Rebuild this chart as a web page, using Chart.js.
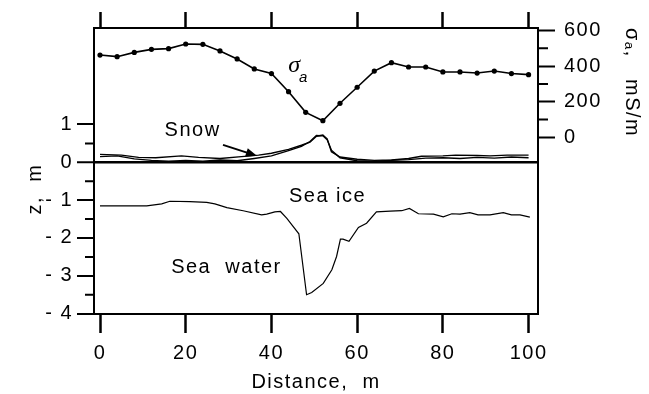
<!DOCTYPE html>
<html>
<head>
<meta charset="utf-8">
<script src="https://cdn.jsdelivr.net/npm/chart.js@4.4.1/dist/chart.umd.min.js"></script>
<style>
  html, body { margin: 0; padding: 0; background: #fff; }
  #wrap { width: 649px; height: 394px; }
</style>
</head>
<body>
<div id="wrap"><canvas id="c" width="649" height="394"></canvas></div>
<script>
// Apparent conductivity along the profile (mS/m), every 4 m
const sigmaDist = [0, 4, 8, 12, 16, 20, 24, 28, 32, 36, 40, 44, 48, 52, 56, 60, 64, 68, 72, 76, 80, 84, 88, 92, 96, 100];
const sigmaValues = [462, 453, 477, 494, 498, 524, 522, 485, 440, 384, 358, 256, 140, 93, 191, 281, 372, 419, 395, 395, 367, 367, 361, 372, 358, 352];

// Snow surface, two soundings (m above ice surface)
const snowDistA = [0, 5, 9, 13, 19, 23, 28, 33, 37, 40, 44, 47, 49, 50.5, 52, 53, 54, 56, 60, 64, 68, 72, 75, 80, 83, 88, 91, 95, 100];
const snowA = [0.21, 0.19, 0.13, 0.12, 0.17, 0.13, 0.10, 0.15, 0.19, 0.24, 0.34, 0.45, 0.53, 0.69, 0.72, 0.62, 0.28, 0.14, 0.08, 0.05, 0.06, 0.10, 0.16, 0.17, 0.19, 0.18, 0.17, 0.19, 0.19];
const snowDistB = [0, 4, 8, 12, 16, 20, 24, 28, 32, 36, 40, 44, 47, 49, 50.5, 52, 53, 54, 56, 60, 64, 68, 72, 76, 80, 84, 88, 92, 96, 100];
const snowB = [0.15, 0.17, 0.09, 0.05, 0.03, 0.05, 0.03, 0.06, 0.04, 0.10, 0.17, 0.31, 0.42, 0.55, 0.71, 0.70, 0.60, 0.32, 0.12, 0.04, 0.03, 0.05, 0.07, 0.11, 0.12, 0.10, 0.13, 0.11, 0.14, 0.12];

// Ice bottom (m)
const iceDist = [0, 10.9, 14.4, 16.3, 21.0, 24.9, 26.8, 29.6, 33.4, 37.7, 38.9, 40.8, 42.1, 43.6, 46.4, 48.2, 49.4, 52.1, 54.1, 55.2, 56.1, 56.7, 58.1, 60.3, 62.2, 64.5, 67.7, 70.4, 72.2, 74.3, 77.8, 80.1, 82.1, 84.0, 86.3, 88.2, 91.0, 94.1, 96.0, 98.0, 100.3];
const iceBottom = [-1.15, -1.15, -1.10, -1.03, -1.04, -1.06, -1.10, -1.20, -1.28, -1.39, -1.37, -1.31, -1.30, -1.48, -1.89, -3.50, -3.44, -3.20, -2.84, -2.49, -2.03, -2.03, -2.09, -1.72, -1.61, -1.31, -1.29, -1.28, -1.22, -1.36, -1.37, -1.44, -1.36, -1.37, -1.33, -1.39, -1.39, -1.33, -1.39, -1.39, -1.45];

// Axis ticks
const distTicks = [0, 20, 40, 60, 80, 100];
const zTicks = [-4, -3, -2, -1, 0, 1];
const zMinorTicks = [-3.5, -2.5, -1.5, -0.5, 0.5];
const sigmaTicks = [0, 200, 400, 600];
const sigmaMinorTicks = [100, 300, 500];

const FONT = '"Liberation Sans", Arial, Helvetica, sans-serif';
const SPACING = '1.5px';

Chart.defaults.color = '#000';
Chart.defaults.font.family = FONT;

const pts = (xs, ys) => xs.map((x, i) => ({ x: x, y: ys[i] }));
const setTicks = list => scale => { scale.ticks = list.map(v => ({ value: v })); };

// Wider letter spacing for every text drawn on the canvas
const spacingPlugin = {
  id: 'spacing',
  beforeUpdate(chart) { chart.ctx.letterSpacing = SPACING; },
  beforeLayout(chart) { chart.ctx.letterSpacing = SPACING; },
  beforeDraw(chart) { chart.ctx.letterSpacing = SPACING; }
};

// Short minor ticks on the depth and conductivity axes
const minorTickPlugin = {
  id: 'minorTicks',
  afterDraw(chart) {
    const ctx = chart.ctx;
    const z = chart.scales.z, s = chart.scales.sig;
    const area = chart.chartArea;
    ctx.save();
    ctx.strokeStyle = '#000';
    ctx.lineWidth = 2;
    ctx.beginPath();
    zMinorTicks.forEach(v => {
      const y = z.getPixelForValue(v);
      ctx.moveTo(area.left - 9, y); ctx.lineTo(area.left, y);
    });
    sigmaMinorTicks.forEach(v => {
      const y = s.getPixelForValue(v);
      ctx.moveTo(area.right, y); ctx.lineTo(area.right + 10, y);
    });
    ctx.stroke();
    ctx.restore();
  }
};

// In-plot labels, the snow arrow and the depth axis title
const labelPlugin = {
  id: 'labels',
  afterDraw(chart) {
    const ctx = chart.ctx;
    const x = chart.scales.x, z = chart.scales.z, s = chart.scales.sig;
    ctx.save();
    ctx.letterSpacing = SPACING;
    ctx.fillStyle = '#000';
    ctx.textAlign = 'center';
    ctx.textBaseline = 'middle';

    ctx.font = '20px ' + FONT;
    ctx.fillText('Snow', x.getPixelForValue(21.6), z.getPixelForValue(0.84));
    ctx.fillText('Sea ice', x.getPixelForValue(53.1), z.getPixelForValue(-0.91));
    ctx.fillText('Sea  water', x.getPixelForValue(29.5), z.getPixelForValue(-2.79));

    ctx.font = 'italic 24px "Liberation Serif", "Times New Roman", serif';
    ctx.fillText('σ', x.getPixelForValue(45.5), s.getPixelForValue(400));
    ctx.font = 'italic 15px ' + FONT;
    ctx.fillText('a', x.getPixelForValue(47.6), s.getPixelForValue(333));

    // arrow pointing at the snow lines
    const x0 = x.getPixelForValue(28.7), y0 = z.getPixelForValue(0.46);
    const x1 = x.getPixelForValue(36.6), y1 = z.getPixelForValue(0.17);
    const ang = Math.atan2(y1 - y0, x1 - x0);
    ctx.strokeStyle = '#000';
    ctx.lineWidth = 2;
    ctx.beginPath();
    ctx.moveTo(x0, y0);
    ctx.lineTo(x1 - 8 * Math.cos(ang), y1 - 8 * Math.sin(ang));
    ctx.stroke();
    ctx.beginPath();
    ctx.moveTo(x1, y1);
    ctx.lineTo(x1 - 11 * Math.cos(ang) + 4.5 * Math.sin(ang), y1 - 11 * Math.sin(ang) - 4.5 * Math.cos(ang));
    ctx.lineTo(x1 - 11 * Math.cos(ang) - 4.5 * Math.sin(ang), y1 - 11 * Math.sin(ang) + 4.5 * Math.cos(ang));
    ctx.closePath();
    ctx.fill();

    // depth axis title
    ctx.font = '20px ' + FONT;
    ctx.translate(35, 189);
    ctx.rotate(-Math.PI / 2);
    ctx.fillText('z,  m', 0, 0);
    ctx.restore();
  }
};

const tickFont = { family: FONT, size: 20 };

new Chart(document.getElementById('c'), {
  type: 'line',
  data: {
    datasets: [
      {
        label: 'σa',
        data: pts(sigmaDist, sigmaValues),
        yAxisID: 'sig',
        borderColor: '#000',
        borderWidth: 1.6,
        pointRadius: 2.6,
        pointBackgroundColor: '#000',
        pointBorderColor: '#000',
        pointBorderWidth: 0,
        tension: 0
      },
      {
        label: 'Snow A',
        data: pts(snowDistA, snowA),
        yAxisID: 'z',
        borderColor: '#000',
        borderWidth: 1.4,
        pointRadius: 0,
        tension: 0
      },
      {
        label: 'Snow B',
        data: pts(snowDistB, snowB),
        yAxisID: 'z',
        borderColor: '#000',
        borderWidth: 1.4,
        pointRadius: 0,
        tension: 0
      },
      {
        label: 'Ice bottom',
        data: pts(iceDist, iceBottom),
        yAxisID: 'z',
        borderColor: '#000',
        borderWidth: 1.2,
        pointRadius: 0,
        tension: 0
      }
    ]
  },
  options: {
    responsive: false,
    animation: false,
    devicePixelRatio: 1,
    layout: { padding: 0 },
    plugins: { legend: { display: false }, tooltip: { enabled: false } },
    scales: {
      x: {
        type: 'linear',
        position: 'bottom',
        min: -1.4,
        max: 102.2,
        afterBuildTicks: setTicks(distTicks),
        afterFit: sc => { sc.height = 80; },
        grid: { drawOnChartArea: false, drawTicks: true, tickLength: 19, tickWidth: 2.5, tickColor: '#000' },
        border: { display: true, width: 2, color: '#000' },
        ticks: { font: tickFont, padding: 8, maxRotation: 0, autoSkip: false, color: '#000' },
        title: { display: true, text: 'Distance,  m', font: tickFont, color: '#000', padding: { top: 0, bottom: 0 } }
      },
      x2: {
        type: 'linear',
        position: 'top',
        min: -1.4,
        max: 102.2,
        afterBuildTicks: setTicks(distTicks),
        afterFit: sc => { sc.height = 28; },
        grid: { drawOnChartArea: false, drawTicks: true, tickLength: 16, tickWidth: 2.5, tickColor: '#000' },
        border: { display: true, width: 2, color: '#000' },
        ticks: { display: false }
      },
      z: {
        type: 'linear',
        position: 'left',
        min: -4.01,
        max: 3.55,
        afterBuildTicks: setTicks(zTicks),
        afterFit: sc => { sc.width = 94; },
        grid: {
          drawOnChartArea: true,
          drawTicks: true,
          color: '#000',
          lineWidth: c => (c.tick && c.tick.value === 0 ? 2.5 : 0),
          tickLength: 17,
          tickWidth: 2,
          tickColor: '#000'
        },
        border: { display: true, width: 2, color: '#000' },
        ticks: {
          font: tickFont,
          padding: 4,
          color: '#000',
          callback: v => (v < 0 ? '- ' + (-v) : String(v))
        }
      },
      sig: {
        type: 'linear',
        position: 'right',
        min: -993,
        max: 614,
        afterBuildTicks: setTicks(sigmaTicks),
        afterFit: sc => { sc.width = 111; },
        grid: { drawOnChartArea: false, drawTicks: true, tickLength: 17, tickWidth: 2, tickColor: '#000' },
        border: { display: true, width: 2, color: '#000' },
        ticks: { font: tickFont, padding: 9, color: '#000', callback: v => String(v) },
        title: {
          display: true,
          text: 'σₐ,   mS/m',
          align: 'end',
          font: tickFont,
          color: '#000',
          padding: { top: 5, bottom: 0 }
        }
      }
    }
  },
  plugins: [spacingPlugin, minorTickPlugin, labelPlugin]
});
</script>
</body>
</html>
